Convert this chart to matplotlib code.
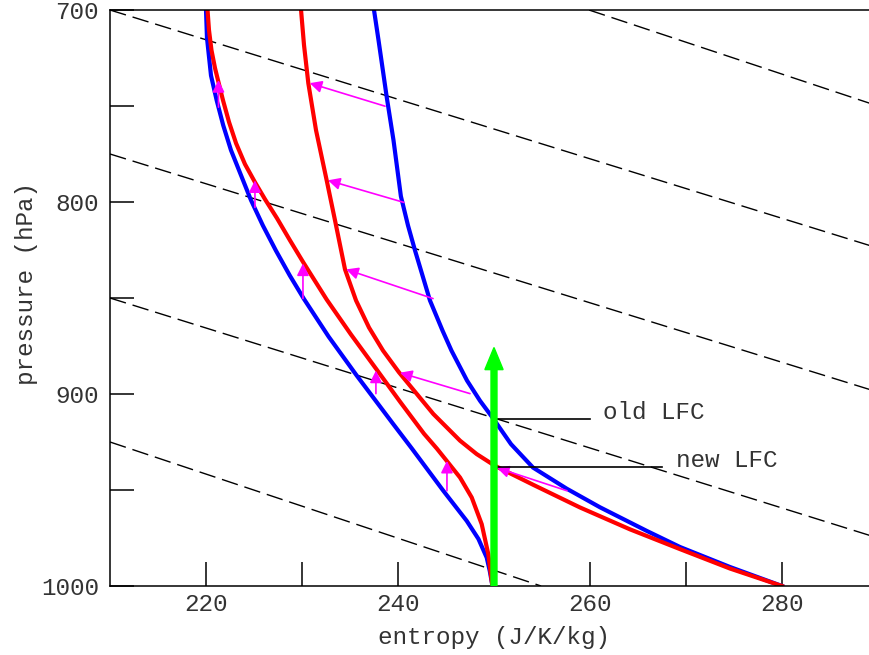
import matplotlib
matplotlib.use("Agg")
import matplotlib.pyplot as plt

plt.rcParams['font.family'] = ['Liberation Mono', 'DejaVu Sans Mono']

# --- curves (entropy J/K/kg, pressure hPa) ---
blue_env_s = [220.0, 220.10, 220.52, 221.11, 221.79, 222.60, 223.65, 224.69, 225.92, 227.27,
              228.73, 230.19, 232.77, 235.70, 239.48, 241.46, 244.72, 247.16, 248.38, 249.24,
              249.56, 249.84]
blue_env_p = [700, 714.4, 734.1, 747.0, 760.0, 773.0, 786.1, 799.1, 812.2, 825.2,
              838.3, 850.4, 870.1, 890.4, 915.5, 928.5, 950.4, 966.1, 975.5, 985.2,
              992.2, 1000]

red_env_s = [220.16, 220.31, 220.57, 220.94, 221.35, 221.77, 222.40, 223.13, 224.06, 225.10,
             226.15, 227.40, 228.75, 230.14, 232.57, 235.10, 237.78, 240.21, 242.71, 244.06,
             245.07, 246.46, 247.68, 248.72, 249.41, 249.76, 249.84]
red_env_p = [700, 710.4, 720.9, 730.3, 738.6, 747.0, 758.4, 769.4, 780.3, 789.7,
             798.6, 808.5, 820.0, 831.5, 850.8, 869.0, 887.3, 904.0, 920.7, 928.5,
             934.8, 943.5, 953.9, 967.8, 983.5, 997.4, 1000]

blue_sat_s = [237.50, 237.97, 238.42, 238.82, 239.53, 240.30, 241.04, 241.77, 243.33, 244.64,
              245.57, 247.19, 248.54, 249.95, 251.77, 254.06, 257.57, 261.04, 265.91,
              269.38, 274.58, 280.0]
blue_sat_p = [700, 715.7, 731.3, 745.2, 767.8, 797.0, 812.2, 825.2, 851.3, 867.0,
              877.4, 893.0, 903.5, 913.0, 926.1, 938.3, 949.3, 959.0, 971.3,
              979.7, 990.1, 1000]

red_sat_s = [229.90, 230.21, 230.66, 231.46, 232.57, 233.44, 234.48, 235.63, 236.98, 238.44,
             240.10, 243.68, 246.46, 248.20, 250.10, 254.09, 258.96, 264.17, 269.38, 274.58,
             280.0]
red_sat_p = [700, 718.3, 738.2, 762.6, 788.7, 809.6, 835.1, 851.3, 865.4, 877.4,
             888.7, 910.4, 924.3, 931.3, 937.4, 947.3, 959.1, 970.5, 980.8, 990.9,
             1000]

# dashed reference lines: (s0, p0, s1, p1)
dash_s0 = [259.9, 210, 210, 210, 210]
dash_p0 = [700, 700, 775, 850, 925]
dash_s1 = [290, 290, 290, 290, 254.9]
dash_p1 = [750, 824, 899, 975, 1000]

# vertical magenta arrows (blue -> red)
up_s = [221.3, 225.1, 230.1, 237.7, 245.1]
up_p_from = [750.6, 802.8, 850.3, 899.8, 950.4]
up_p_to = [736.5, 788.7, 832.0, 887.8, 934.8]

# slanted magenta arrows
sl_s_from = [238.65, 240.6, 243.65, 247.5, 257.6]
sl_p_from = [750.1, 800.2, 850.3, 899.8, 950.4]
sl_s_to = [230.8, 232.7, 234.6, 240.2, 250.3]
sl_p_to = [738.1, 788.7, 835.1, 888.9, 938.4]

lfc_labels = ['old LFC', 'new LFC']
lfc_p = [912.9, 937.9]
lfc_s_end = [260.0, 267.5]
lfc_text_s = [261.35, 268.96]
lfc_text_p = [909.7, 934.8]

green_s = 250.0
green_p_top = 875.8

fig = plt.figure(figsize=(8.7, 6.55), dpi=100)
ax = fig.add_axes([110 / 870, 69 / 655, 768 / 870, 576 / 655])

for s0, p0, s1, p1 in zip(dash_s0, dash_p0, dash_s1, dash_p1):
    ax.plot([s0, s1], [p0, p1], color='black', lw=1.0, dashes=(12, 5), zorder=1)

ax.plot(blue_env_s, blue_env_p, color='#0000ff', lw=3, zorder=2, solid_joinstyle='round')
ax.plot(blue_sat_s, blue_sat_p, color='#0000ff', lw=3, zorder=2, solid_joinstyle='round')
ax.plot(red_env_s, red_env_p, color='#ff0000', lw=3, zorder=2.1, solid_joinstyle='round')
ax.plot(red_sat_s, red_sat_p, color='#ff0000', lw=3, zorder=2.1, solid_joinstyle='round')

aprops = dict(arrowstyle='-|>,head_length=0.4,head_width=0.2', color='#ff00ff',
              lw=1.2, shrinkA=0, shrinkB=0, mutation_scale=18)
for s, pa, pb in zip(up_s, up_p_from, up_p_to):
    ax.annotate('', xy=(s, pb), xytext=(s, pa), arrowprops=aprops, zorder=3)
for sa, pa, sb, pb in zip(sl_s_from, sl_p_from, sl_s_to, sl_p_to):
    ax.annotate('', xy=(sb, pb), xytext=(sa, pa), arrowprops=aprops, zorder=3)

for lab, p, se, ts, tp in zip(lfc_labels, lfc_p, lfc_s_end, lfc_text_s, lfc_text_p):
    ax.plot([green_s, se], [p, p], color='black', lw=1.2, zorder=3)
    ax.text(ts, tp, lab, fontsize=17.5, color='#333333', ha='left', va='center')

ax.arrow(green_s, 1000, 0, green_p_top - 1000, width=0.62, head_width=1.9,
         head_length=11.5, length_includes_head=True, color='#00ff00', zorder=4)

ax.set_xlim(210, 290)
ax.set_ylim(1000, 700)
ax.set_xticks([220, 230, 240, 250, 260, 270, 280])
ax.set_xticklabels(['220', '', '240', '', '260', '', '280'])
ax.set_yticks([700, 750, 800, 850, 900, 950, 1000])
ax.set_yticklabels(['700', '', '800', '', '900', '', '1000'])
ax.tick_params(direction='in', length=17, width=1.1, labelsize=17.5,
               labelcolor='#333333')
ax.tick_params(axis='x', pad=5)
ax.tick_params(axis='y', pad=8)
for sp in ax.spines.values():
    sp.set_linewidth(1.1)

ax.set_xlabel('entropy (J/K/kg)', fontsize=17.5, color='#333333')
ax.set_ylabel('pressure (hPa)', fontsize=17.5, color='#333333')
ax.xaxis.set_label_coords(0.5, -0.07)
ax.yaxis.set_label_coords(-0.094, 0.526)

fig.savefig('out.png', dpi=100)
